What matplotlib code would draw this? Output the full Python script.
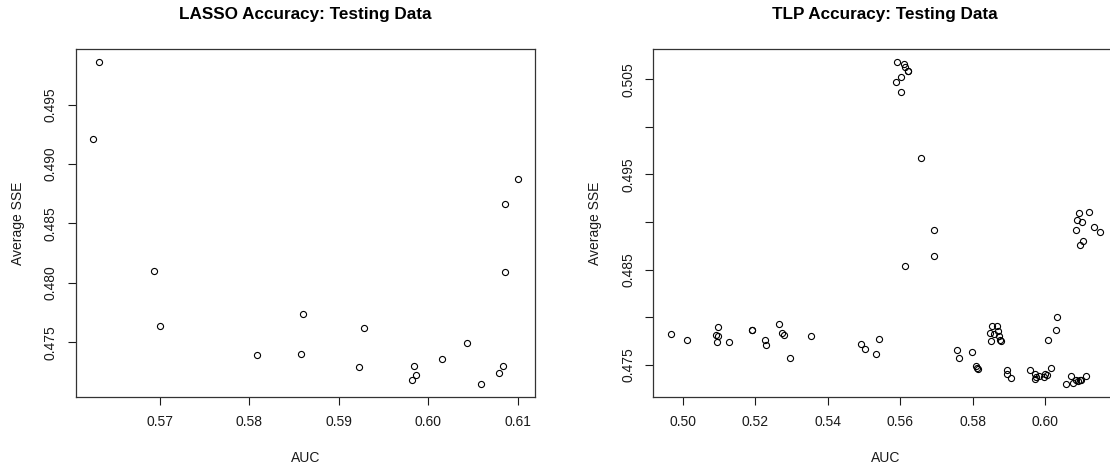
import matplotlib
matplotlib.use("Agg")
import matplotlib.pyplot as plt

plt.rcParams["font.family"] = ["Liberation Sans", "DejaVu Sans"]

# LASSO results on the testing data
lasso_auc = [0.5632, 0.5625, 0.5694, 0.5700, 0.5809, 0.5858, 0.5860, 0.5922,
             0.5928, 0.5984, 0.5986, 0.5982, 0.6015, 0.6043, 0.6059, 0.6079,
             0.6083, 0.6086, 0.6085, 0.6100]
lasso_sse = [0.4986, 0.4921, 0.4810, 0.4764, 0.4739, 0.4740, 0.4774, 0.4729,
             0.4762, 0.4730, 0.4722, 0.4718, 0.4736, 0.4749, 0.4715, 0.4724,
             0.4730, 0.4809, 0.4866, 0.4887]

# TLP results on the testing data
tlp_auc = [0.4967, 0.5012, 0.5098, 0.5093, 0.5098, 0.5096, 0.5129, 0.5192,
           0.5192, 0.5227, 0.5231, 0.5266, 0.5273, 0.5280, 0.5295, 0.5355,
           0.5592, 0.5609, 0.5614, 0.5620, 0.5621, 0.5603, 0.5587, 0.5602,
           0.5658, 0.5692, 0.5694, 0.5612,
           0.5492, 0.5504, 0.5540, 0.5532,
           0.5755, 0.5761, 0.5797, 0.5808, 0.5815, 0.5812,
           0.5853, 0.5867, 0.5846, 0.5859, 0.5869, 0.5871, 0.5878, 0.5851, 0.5874,
           0.5893, 0.5895, 0.5905,
           0.5958, 0.5970, 0.5974, 0.5972, 0.5983, 0.5995, 0.6000, 0.6005,
           0.6016, 0.6006, 0.6030, 0.6033,
           0.6058, 0.6071, 0.6076, 0.6083, 0.6089, 0.6095, 0.6097, 0.6111,
           0.6092, 0.6120, 0.6086, 0.6100, 0.6085, 0.6133, 0.6150, 0.6103, 0.6095]
tlp_sse = [0.47822, 0.47763, 0.47896, 0.47812, 0.47798, 0.47738, 0.47735, 0.47868,
           0.47868, 0.47756, 0.47706, 0.47924, 0.47833, 0.47812, 0.47574, 0.47801,
           0.50682, 0.50658, 0.50633, 0.50591, 0.50587, 0.50521, 0.50468, 0.50363,
           0.49668, 0.48921, 0.48643, 0.48542,
           0.47717, 0.47668, 0.47774, 0.47616,
           0.47651, 0.47574, 0.47629, 0.47482, 0.47451, 0.47466,
           0.47911, 0.47911, 0.47833, 0.47819, 0.47854, 0.47798, 0.47753, 0.47753, 0.47763,
           0.47440, 0.47398, 0.47363,
           0.47447, 0.47405, 0.47369, 0.47348, 0.47384, 0.47369, 0.47405, 0.47390,
           0.47461, 0.47756, 0.47868, 0.48001,
           0.47300, 0.47387, 0.47311, 0.47345, 0.47327, 0.47342, 0.47345, 0.47384,
           0.49093, 0.49103, 0.49026, 0.48995, 0.48921, 0.48948, 0.48893, 0.48798, 0.48756]

lasso_xticks = [0.57, 0.58, 0.59, 0.60, 0.61]
lasso_yticks = [0.475, 0.480, 0.485, 0.490, 0.495]
lasso_ylabels = ["0.475", "0.480", "0.485", "0.490", "0.495"]

tlp_xticks = [0.50, 0.52, 0.54, 0.56, 0.58, 0.60]
tlp_yticks = [0.475, 0.480, 0.485, 0.490, 0.495, 0.500, 0.505]
tlp_ylabels = ["0.475", "", "0.485", "", "0.495", "", "0.505"]

ink = "#1a1a1a"
W, H = 1110, 468

fig = plt.figure(figsize=(W / 100, H / 100), dpi=100)
ax1 = fig.add_axes([0.0682, 0.1524, 0.4138, 0.7429])
ax2 = fig.add_axes([0.5887, 0.1524, 0.4176, 0.7429])


def style(ax, auc, sse, title, xticks, yticks, ylabels):
    ax.plot(auc, sse, linestyle="none", marker="o", markersize=4.4,
            markerfacecolor="none", markeredgecolor="black", markeredgewidth=0.8)
    ax.margins(x=0.04, y=0.04)
    ax.set_xticks(xticks)
    ax.set_xticklabels([f"{t:.2f}" for t in xticks])
    ax.set_yticks(yticks)
    ax.set_yticklabels(ylabels, rotation=90, va="center")
    ax.tick_params(direction="out", length=5.5, width=0.8, colors=ink,
                   labelsize=10, pad=8)
    ax.tick_params(axis="y", pad=7.5)
    for sp in ax.spines.values():
        sp.set_color("#333333")
        sp.set_linewidth(0.9)

    pos = ax.get_position()
    w_px, h_px = pos.width * W, pos.height * H
    ax.set_title(title, fontsize=12.3, fontweight="bold", color="black",
                 y=1 + 34 / h_px, va="center", pad=0)
    ax.set_xlabel("AUC", fontsize=10, color=ink)
    ax.xaxis.label.set_va("center")
    ax.xaxis.set_label_coords(0.5, -61.5 / h_px)
    ax.set_ylabel("Average SSE", fontsize=10, color=ink)
    ax.yaxis.label.set_va("center")
    ax.yaxis.set_label_coords(-58 / w_px, 0.5)


style(ax1, lasso_auc, lasso_sse, "LASSO Accuracy: Testing Data",
      lasso_xticks, lasso_yticks, lasso_ylabels)
style(ax2, tlp_auc, tlp_sse, "TLP Accuracy: Testing Data",
      tlp_xticks, tlp_yticks, tlp_ylabels)

fig.savefig("out.png", dpi=100, facecolor="white")
